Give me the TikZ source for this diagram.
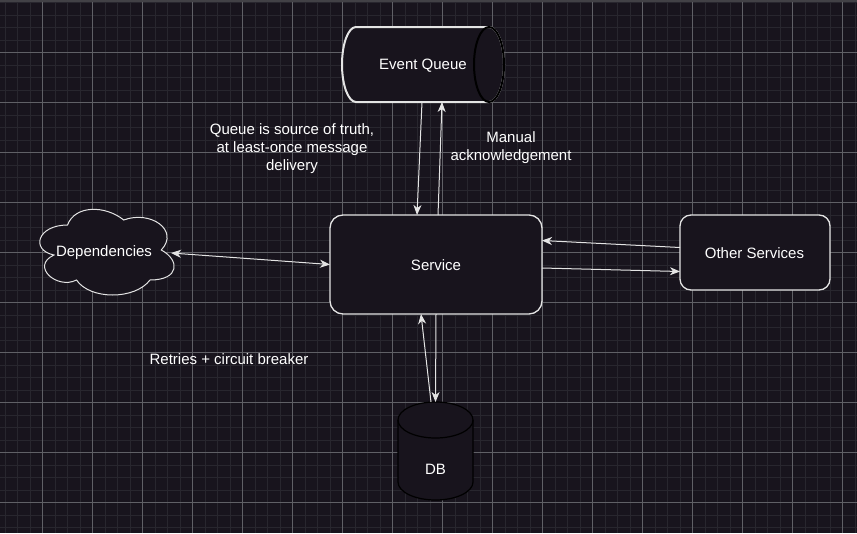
\documentclass[tikz,border=0pt]{standalone}
\usepackage{fontspec}
\setmainfont{Liberation Sans}
\usetikzlibrary{arrows.meta,calc}
\definecolor{bg}{RGB}{24,20,29}
\definecolor{gridminor}{RGB}{40,38,46}
\definecolor{gridmajor}{RGB}{96,96,102}
\definecolor{stroke}{RGB}{228,228,228}
\begin{document}
\begin{tikzpicture}[x=1pt,y=-1pt,
  font=\fontsize{15}{18}\selectfont,
  lbl/.style={text=white, inner sep=0pt, outer sep=0pt, align=center},
  box/.style={draw=stroke, fill=bg, text=white, line width=1.3pt, rounded corners=13pt, inner sep=0pt, outer sep=0pt},
  shp/.style={draw=stroke, fill=bg, line width=1.2pt},
  conn/.style={draw=stroke, line width=1pt, -{Stealth[length=10pt,width=8pt,inset=3pt]}},
  conn2/.style={draw=stroke, line width=1pt, {Stealth[length=10pt,width=8pt,inset=3pt]}-{Stealth[length=10pt,width=8pt,inset=3pt]}}]
% background and grid
\fill[bg] (0,0) rectangle (857,533);
\useasboundingbox (0,0) rectangle (857,533);
\foreach \k in {0,...,68} \draw[gridminor, line width=1pt] ({5+12.5*\k},0) -- ({5+12.5*\k},533);
\foreach \k in {0,...,42} \draw[gridminor, line width=1pt] (0,{2.5+12.5*\k}) -- (857,{2.5+12.5*\k});
\foreach \k in {0,...,16} \draw[gridmajor, line width=1pt] ({42.5+50*\k},0) -- ({42.5+50*\k},533);
\foreach \k in {0,...,9} \draw[gridmajor, line width=1pt] (0,{52.5+50*\k}) -- (857,{52.5+50*\k});
\draw[gridminor!70!gray, line width=2pt] (0,1) -- (857,1);

% Event Queue (horizontal cylinder)
\filldraw[shp, line width=2pt] (356,27) -- (489,27) arc[start angle=90,end angle=-90,x radius=15pt,y radius=37.5pt] -- (356,102) arc[start angle=270,end angle=90,x radius=14pt,y radius=37.5pt] -- cycle;
\draw[stroke, line width=2pt] (489,64.5) ellipse[x radius=15pt, y radius=37.5pt];
\node[lbl, minimum width=161pt, minimum height=75pt] (eq) at (422.5,64.5) {};
\node[lbl] (eqt) at (423,66) {Event Queue};

% Dependencies (cloud)
\filldraw[shp, line width=1pt] (67.5,225) .. controls (37.5,225) and (30,250) .. (54,255)
  .. controls (30,266) and (57,290) .. (76.5,280)
  .. controls (90,300) and (135,300) .. (150,280)
  .. controls (180,280) and (180,260) .. (161.25,250)
  .. controls (180,230) and (150,210) .. (123.75,220)
  .. controls (105,205) and (75,205) .. (67.5,225) -- cycle;
\node[lbl] (dep) at (104,253) {Dependencies};
\coordinate (depE) at (171,253);

% Service
\node[box, minimum width=212pt, minimum height=99pt] (svc) at (436,264.5) {};
\node[lbl] (svct) at (436,265.5) {Service};

% Other Services
\node[box, rounded corners=11pt, minimum width=150pt, minimum height=75pt] (oth) at (755,252.5) {};
\node[lbl] (otht) at (754.5,253) {Other Services};

% DB (vertical cylinder)
\fill[bg] (398,420) -- (398,482) arc[start angle=180,end angle=360,x radius=37.5pt,y radius=18pt] -- (473,420) arc[start angle=0,end angle=180,x radius=37.5pt,y radius=18pt] -- cycle;
\draw[stroke, line width=1.2pt] (398,420) -- (398,482) arc[start angle=180,end angle=360,x radius=37.5pt,y radius=18pt] -- (473,420);
\draw[stroke, line width=1.2pt] (435.5,420) ellipse[x radius=37.5pt, y radius=18pt];
\node[lbl, minimum width=75pt, minimum height=98pt] (db) at (435.5,451) {};
\node[lbl] (dbt) at (435.5,469) {DB};

% labels
\node[lbl] (qlabel) at (292,149) {Queue is source of truth,\\at least-once message\\delivery};
\node[lbl] (ack) at (511,147.5) {Manual\\acknowledgement};
\node[lbl] (retry) at (229,359) {Retries + circuit breaker};

% connectors
\draw[conn] ([xshift=-0.5pt]eq.south) -- ([xshift=-19pt]svc.north);
\draw[conn] ([xshift=2pt]svc.north) -- ([xshift=19.5pt]eq.south);
\draw[conn2] (depE) -- (svc.west);
\draw[conn] ([yshift=5pt]oth.west) -- ([yshift=24pt]svc.east);
\draw[conn] ([yshift=-3.5pt]svc.east) -- ([yshift=-19pt]oth.west);
\draw[conn] ([xshift=-4.5pt]db.north) -- ([xshift=-15pt]svc.south);
\draw[conn] (svc.south) -- (db.north);
\end{tikzpicture}
\end{document}
